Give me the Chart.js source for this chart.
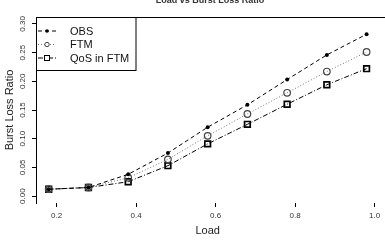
<!DOCTYPE html>
<html>
<head>
<meta charset="utf-8">
<script src="https://cdn.jsdelivr.net/npm/chart.js@4"></script>
<style>
  html, body { margin: 0; padding: 0; background: #fff; }
  #wrap { width: 385px; height: 242px; }
</style>
</head>
<body>
<div id="wrap"><canvas id="load-chart" width="385" height="242"></canvas></div>
<script>
"use strict"

// data
const loads = [0.18, 0.28, 0.38, 0.48, 0.58, 0.68, 0.78, 0.88, 0.98];
const obs = [0.012, 0.015, 0.038, 0.075, 0.120, 0.159, 0.203, 0.246, 0.282];
const ftm = [0.012, 0.015, 0.032, 0.064, 0.105, 0.143, 0.180, 0.217, 0.251];
const qosFtm = [0.012, 0.015, 0.025, 0.053, 0.091, 0.125, 0.160, 0.194, 0.222];
const seriesNames = ['OBS', 'FTM', 'QoS in FTM'];
const xTicks = [0.2, 0.4, 0.6, 0.8, 1.0];
const yTicks = [0.00, 0.05, 0.10, 0.15, 0.20, 0.25, 0.30];

function pts(ys) {
  return loads.map(function (x, i) { return {x: x, y: ys[i]}; });
}

const FONT = "'Liberation Sans', Arial, sans-serif";

// title (cut off at the top), rotated y labels, top border and legend
const extras = {
  id: 'extras',
  afterDraw(chart) {
    const ctx = chart.ctx;
    const area = chart.chartArea;
    const y = chart.scales.y;
    ctx.save();

    // title, mostly outside the picture
    ctx.fillStyle = '#333';
    ctx.font = 'bold 9px ' + FONT;
    ctx.textAlign = 'center';
    ctx.textBaseline = 'alphabetic';
    ctx.fillText('Load vs Burst Loss Ratio', 210, 3);

    // top border
    ctx.strokeStyle = '#000';
    ctx.lineWidth = 1;
    ctx.beginPath();
    ctx.moveTo(area.left, Math.round(area.top) + 0.5);
    ctx.lineTo(chart.width, Math.round(area.top) + 0.5);
    ctx.stroke();

    // y tick labels, parallel to the axis
    ctx.fillStyle = '#333';
    ctx.font = '8px ' + FONT;
    ctx.textAlign = 'center';
    ctx.textBaseline = 'middle';
    yTicks.forEach(function (v) {
      const py = y.getPixelForValue(v);
      ctx.save();
      ctx.translate(23, py);
      ctx.rotate(-Math.PI / 2);
      ctx.fillText(v.toFixed(2), 0, 0);
      ctx.restore();
    });

    // legend box
    const bx = area.left, by = area.top, bw = 100, bh = 53;
    ctx.fillStyle = '#fff';
    ctx.fillRect(bx, by, bw, bh);
    ctx.strokeStyle = '#000';
    ctx.strokeRect(bx + 0.5, by + 0.5, bw - 0.5, bh);
    const rows = [31, 44.5, 58];
    chart.data.datasets.forEach(function (ds, i) {
      const ry = rows[i];
      ctx.strokeStyle = ds.borderColor;
      ctx.lineWidth = 1;
      ctx.setLineDash(ds.borderDash);
      ctx.beginPath();
      ctx.moveTo(bx + 2, ry);
      ctx.lineTo(bx + 20, ry);
      ctx.stroke();
      ctx.setLineDash([]);
      ctx.lineWidth = 1;
      ctx.strokeStyle = ds.pointBorderColor;
      if (i === 0) {
        ctx.fillStyle = '#000';
        ctx.beginPath();
        ctx.arc(bx + 11, ry, 1.8, 0, Math.PI * 2);
        ctx.fill();
      } else if (i === 1) {
        ctx.beginPath();
        ctx.arc(bx + 11, ry, 2.2, 0, Math.PI * 2);
        ctx.fillStyle = '#fff';
        ctx.fill();
        ctx.stroke();
      } else {
        ctx.fillStyle = '#fff';
        ctx.fillRect(bx + 8.5, ry - 2.5, 5, 5);
        ctx.strokeRect(bx + 8.5, ry - 2.5, 5, 5);
      }
      ctx.fillStyle = '#111';
      ctx.font = '11px ' + FONT;
      ctx.textAlign = 'left';
      ctx.textBaseline = 'middle';
      ctx.fillText(ds.label, bx + 34, ry + 0.5);
    });
    ctx.restore();
  }
};

const data = {
  datasets: [{
    label: seriesNames[0],
    data: pts(obs),
    borderColor: '#000',
    borderWidth: 1,
    borderDash: [4, 3],
    pointStyle: 'circle',
    pointRadius: 2,
    pointBackgroundColor: '#000',
    pointBorderColor: '#000',
    pointBorderWidth: 0
  }, {
    label: seriesNames[1],
    data: pts(ftm),
    borderColor: '#777',
    borderWidth: 1,
    borderDash: [1, 2],
    pointStyle: 'circle',
    pointRadius: 3.3,
    pointBackgroundColor: 'rgba(255,255,255,0)',
    pointBorderColor: '#444',
    pointBorderWidth: 1.2
  }, {
    label: seriesNames[2],
    data: pts(qosFtm),
    borderColor: '#000',
    borderWidth: 1,
    borderDash: [5, 2, 1, 2],
    pointStyle: 'rect',
    pointRadius: 4,
    pointBackgroundColor: 'rgba(255,255,255,0)',
    pointBorderColor: '#000',
    pointBorderWidth: 1.7
  }]
};

const config = {
  type: 'line',
  data,
  plugins: [extras],
  options: {
    responsive: false,
    animation: false,
    devicePixelRatio: 1,
    layout: { padding: { top: 17, right: 3, left: 0, bottom: 0 } },
    plugins: {
      legend: { display: false },
      title: { display: false },
      tooltip: { enabled: false }
    },
    scales: {
      x: {
        type: 'linear',
        min: 0.148,
        max: 1.012,
        afterBuildTicks(scale) { scale.ticks = xTicks.map(v => ({value: v})); },
        afterFit(scale) { scale.height = 39; },
        border: { display: false },
        grid: { display: true, drawOnChartArea: false, drawTicks: true, tickLength: 4, color: '#000' },
        ticks: {
          autoSkip: false, maxRotation: 0, minRotation: 0, padding: 4,
          color: '#333', font: { family: FONT, size: 8 },
          callback: v => v.toFixed(1)
        },
        title: {
          display: true, text: 'Load', color: '#222',
          font: { family: FONT, size: 11 }, padding: { top: 0, bottom: 4 }
        }
      },
      y: {
        type: 'linear',
        min: -0.012,
        max: 0.312,
        afterBuildTicks(scale) { scale.ticks = yTicks.map(v => ({value: v})); },
        afterFit(scale) { scale.width = 36; },
        border: { display: true, color: '#000', width: 1 },
        grid: { display: true, drawOnChartArea: false, drawTicks: true, tickLength: 4, color: '#000' },
        ticks: { display: false },
        title: {
          display: true, text: 'Burst Loss Ratio', color: '#222',
          font: { family: FONT, size: 11 }, padding: { top: 3, bottom: 0 }
        }
      }
    }
  }
};

const lossChart = new Chart(document.getElementById('load-chart'), config);
</script>
</body>
</html>
